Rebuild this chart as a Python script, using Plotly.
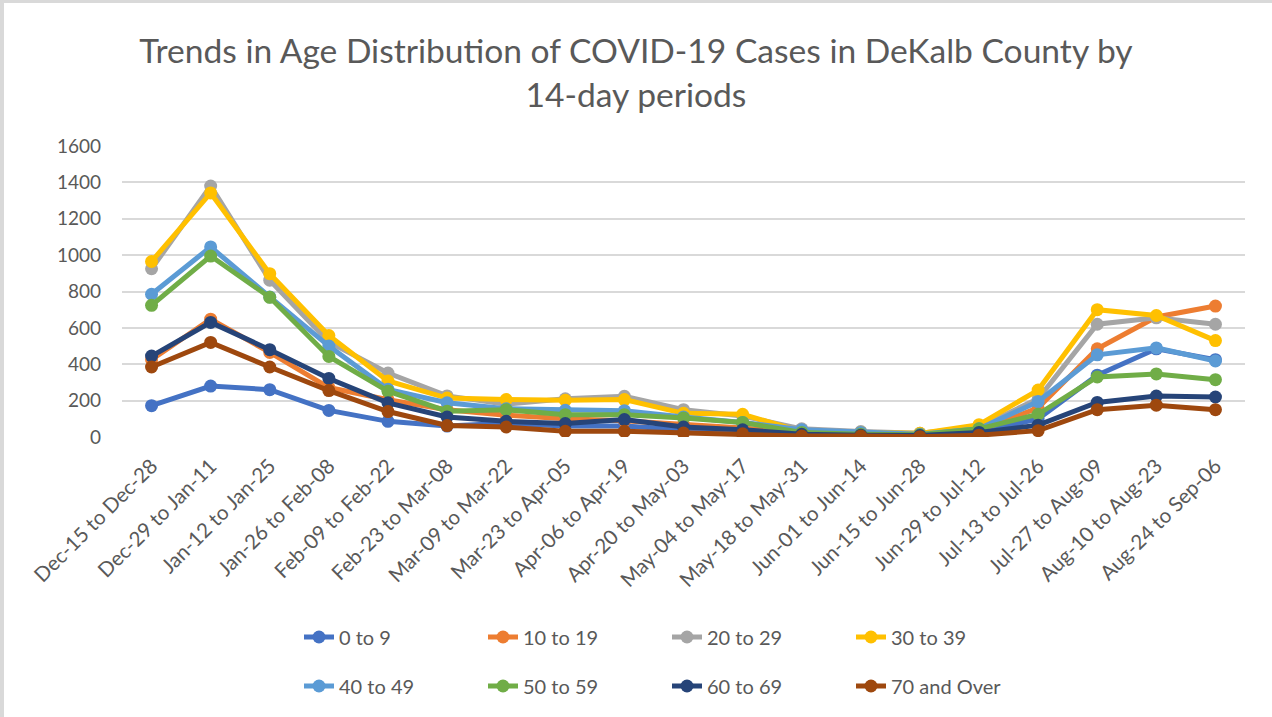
import plotly.graph_objects as go

categories = ["Dec-15 to Dec-28", "Dec-29 to Jan-11", "Jan-12 to Jan-25", "Jan-26 to Feb-08",
              "Feb-09 to Feb-22", "Feb-23 to Mar-08", "Mar-09 to Mar-22", "Mar-23 to Apr-05",
              "Apr-06 to Apr-19", "Apr-20 to May-03", "May-04 to May-17", "May-18 to May-31",
              "Jun-01 to Jun-14", "Jun-15 to Jun-28", "Jun-29 to Jul-12", "Jul-13 to Jul-26",
              "Jul-27 to Aug-09", "Aug-10 to Aug-23", "Aug-24 to Sep-06"]

age_0_9 = [172, 280, 260, 146, 86, 60, 75, 60, 60, 40, 30, 15, 10, 8, 25, 100, 340, 485, 425]
age_10_19 = [425, 648, 465, 272, 205, 150, 120, 100, 90, 70, 50, 20, 15, 10, 35, 160, 485, 660, 720]
age_20_29 = [925, 1380, 862, 522, 352, 226, 180, 210, 224, 150, 115, 45, 30, 20, 55, 210, 620, 655, 620]
age_30_39 = [965, 1342, 898, 558, 308, 214, 206, 202, 206, 130, 125, 30, 25, 20, 68, 258, 700, 668, 530]
age_40_49 = [785, 1045, 770, 500, 262, 188, 155, 147, 145, 110, 80, 40, 25, 15, 45, 195, 452, 490, 418]
age_50_59 = [724, 995, 768, 443, 252, 142, 150, 123, 123, 105, 80, 25, 15, 12, 45, 125, 330, 347, 315]
age_60_69 = [445, 630, 480, 322, 188, 110, 86, 74, 96, 55, 40, 15, 10, 8, 25, 65, 190, 225, 220]
age_70_over = [385, 520, 385, 255, 140, 63, 55, 31, 31, 22, 18, 5, 5, 2, 10, 35, 150, 175, 150]

series_names = ["0 to 9", "10 to 19", "20 to 29", "30 to 39",
                "40 to 49", "50 to 59", "60 to 69", "70 and Over"]
series_values = [age_0_9, age_10_19, age_20_29, age_30_39,
                 age_40_49, age_50_59, age_60_69, age_70_over]
colors = ["#4472C4", "#ED7D31", "#A5A5A5", "#FFC000",
          "#5B9BD5", "#70AD47", "#264478", "#9E480E"]

y_ticks = [0, 200, 400, 600, 800, 1000, 1200, 1400, 1600]

FONT = "Lato"
TXT = "#595959"

fig = go.Figure()
for i, (name, vals, col) in enumerate(zip(series_names, series_values, colors)):
    fig.add_trace(go.Scatter(
        x=categories, y=vals, name=name, mode="lines+markers",
        line=dict(color=col, width=5),
        marker=dict(color=col, size=13),
        legend="legend" if i < 4 else "legend2",
    ))

W, H = 1272, 717
L, R, T, B = 122, 27, 146, 280
pw, ph = W - L - R, H - T - B

def px_x(x):
    return (x - L) / pw

def px_y(y):
    return (H - B - y) / ph

legend_common = dict(
    orientation="h", xanchor="left", yanchor="middle",
    font=dict(family=FONT, size=20, color=TXT),
    entrywidth=139, entrywidthmode="pixels",
    bgcolor="rgba(0,0,0,0)", traceorder="normal",
    itemclick=False, itemdoubleclick=False,
)

fig.update_layout(
    width=W, height=H,
    margin=dict(l=L, r=R, t=T, b=B, autoexpand=False),
    paper_bgcolor="white", plot_bgcolor="white",
    title=dict(
        text="Trends in Age Distribution of COVID-19 Cases in DeKalb County by<br>14-day periods",
        x=0.5, xref="container", xanchor="center",
        y=1 - 63 / H, yref="container", yanchor="middle",
        font=dict(family=FONT, size=33.6, color=TXT),
    ),
    xaxis=dict(
        type="category", tickangle=-45, showgrid=False, showline=False,
        ticks="", tickfont=dict(family=FONT, size=20.5, color=TXT),
        range=[-0.5, len(categories) - 0.5], fixedrange=True,
        automargin=False, ticklabelstandoff=12,
    ),
    yaxis=dict(
        range=[0, 1600], tickvals=y_ticks, showgrid=True,
        gridcolor="#D9D9D9", gridwidth=1.5, zeroline=False, showline=False,
        ticks="", tickfont=dict(family=FONT, size=19, color=TXT),
        ticklabelstandoff=20, fixedrange=True, automargin=False,
    ),
    legend=dict(x=px_x(299), y=px_y(637), **legend_common),
    legend2=dict(x=px_x(299), y=px_y(686), **legend_common),
    showlegend=True,
    shapes=[
        dict(type="line", xref="paper", yref="paper",
             x0=px_x(2), x1=px_x(2), y0=px_y(0), y1=px_y(H),
             line=dict(color="#D9D9D9", width=4)),
        dict(type="line", xref="paper", yref="paper",
             x0=px_x(0), x1=px_x(W), y0=px_y(1.5), y1=px_y(1.5),
             line=dict(color="#D9D9D9", width=3)),
    ],
)

fig.write_html("out.html", config={"displayModeBar": False},
               post_script="document.body.style.margin='0';")
